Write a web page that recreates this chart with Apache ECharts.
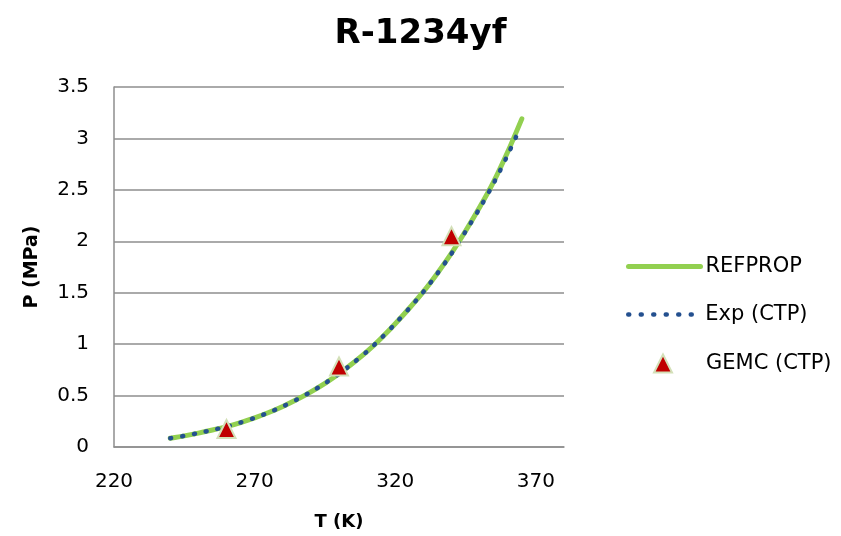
<!DOCTYPE html>
<html>
<head>
<meta charset="utf-8">
<script src="https://cdn.jsdelivr.net/npm/echarts@6/dist/echarts.min.js"></script>
<style>
html,body{margin:0;padding:0;background:#fff;}
#chart{width:841px;height:536px;}
</style>
</head>
<body>
<div id="chart"></div>
<script>
// REFPROP saturation curve
var refT = [240, 245, 250, 255, 260, 265, 270, 275, 280, 285, 290, 295, 300, 305, 310, 315, 320, 325, 330, 335, 340, 345, 350, 355, 360, 365];
var refP = [0.085, 0.108, 0.135, 0.165, 0.198, 0.238, 0.283, 0.335, 0.394, 0.461, 0.536, 0.619, 0.712, 0.816, 0.929, 1.058, 1.199, 1.349, 1.510, 1.690, 1.885, 2.100, 2.330, 2.580, 2.870, 3.190];
// Experimental (CTP)
var expT = [240, 245, 250, 255, 260, 265, 270, 275, 280, 285, 290, 295, 300, 305, 310, 315, 320, 325, 330, 335, 340, 345, 350, 355, 360, 363.7];
var expP = [0.085, 0.108, 0.135, 0.165, 0.198, 0.238, 0.283, 0.335, 0.394, 0.461, 0.536, 0.619, 0.712, 0.816, 0.929, 1.058, 1.199, 1.349, 1.508, 1.688, 1.880, 2.095, 2.320, 2.565, 2.840, 3.060];
// GEMC (CTP)
var gemcT = [260, 300, 340];
var gemcP = [0.175, 0.783, 2.05];
var xTicks = {min: 220, max: 380, interval: 50};
var yTicks = {min: 0, max: 3.5, interval: 0.5};

function pairs(xs, ys) { return xs.map(function (x, i) { return [x, ys[i]]; }); }

var FONT = 'DejaVu Sans';
var GREEN = '#92D050', BLUE = '#24508f', RED = '#C00000', TRI_BORDER = '#D3E0B8';
var chart = echarts.init(document.getElementById('chart'), null, {renderer: 'canvas'});
var legendText = {fontFamily: FONT, fontSize: 21, color: '#000', lineHeight: 21};
chart.setOption({
  backgroundColor: '#fff',
  animation: false,
  title: {
    text: 'R-1234yf', left: 'center', top: 12,
    textStyle: {fontFamily: FONT, fontSize: 34, fontWeight: 'bold', color: '#000'}
  },
  legend: [
    {
      orient: 'vertical', left: 626, top: 256, padding: 0, itemWidth: 72, itemHeight: 18,
      selectedMode: false, textStyle: legendText, data: ['REFPROP'],
      itemStyle: {opacity: 0},
      lineStyle: {color: GREEN, width: 5, cap: 'round'}
    },
    {
      orient: 'vertical', left: 626, top: 304, padding: 0, itemWidth: 72, itemHeight: 18,
      selectedMode: false, textStyle: legendText, data: ['Exp (CTP)'],
      itemStyle: {opacity: 0},
      lineStyle: {color: BLUE, width: 4.5, type: [1, 11.5], cap: 'round'}
    },
    {
      orient: 'vertical', left: 653, top: 353, padding: 0, itemWidth: 18, itemHeight: 18,
      selectedMode: false, data: ['GEMC (CTP)'],
      textStyle: Object.assign({}, legendText, {padding: [0, 0, 0, 29]})
    }
  ],
  grid: {left: 114, right: 277, top: 87, bottom: 89, containLabel: false},
  xAxis: {
    type: 'value', min: xTicks.min, max: xTicks.max, interval: xTicks.interval,
    name: 'T (K)', nameLocation: 'middle', nameGap: 66,
    nameTextStyle: {fontFamily: FONT, fontSize: 18, fontWeight: 'bold', color: '#000'},
    axisLine: {show: true, lineStyle: {color: '#8e8e8e', width: 1.5}},
    axisTick: {show: false},
    splitLine: {show: false},
    axisLabel: {fontFamily: FONT, fontSize: 20, color: '#000', margin: 25, showMaxLabel: false}
  },
  yAxis: {
    type: 'value', min: yTicks.min, max: yTicks.max, interval: yTicks.interval,
    name: 'P (MPa)', nameLocation: 'middle', nameGap: 72, nameRotate: 90,
    nameTextStyle: {fontFamily: FONT, fontSize: 19, fontWeight: 'bold', color: '#000'},
    axisLine: {show: true, lineStyle: {color: '#8e8e8e', width: 1.5}},
    axisTick: {show: false},
    splitLine: {show: true, lineStyle: {color: '#8e8e8e', width: 1.5}},
    axisLabel: {fontFamily: FONT, fontSize: 20, color: '#000', margin: 25}
  },
  series: [
    {
      name: 'REFPROP', type: 'line', smooth: 0.3, symbol: 'none', showSymbol: false,
      data: pairs(refT, refP),
      lineStyle: {color: GREEN, width: 5, cap: 'round'},
      itemStyle: {color: GREEN},
      z: 2
    },
    {
      name: 'Exp (CTP)', type: 'line', smooth: 0.3, symbol: 'none', showSymbol: false,
      data: pairs(expT, expP),
      lineStyle: {color: BLUE, width: 4.5, type: [1, 11], cap: 'round'},
      itemStyle: {color: BLUE},
      z: 3
    },
    {
      name: 'GEMC (CTP)', type: 'scatter', symbol: 'triangle', symbolSize: 18,
      data: pairs(gemcT, gemcP),
      itemStyle: {color: RED, borderColor: TRI_BORDER, borderWidth: 2, opacity: 1},
      z: 4
    }
  ]
});
</script>
</body>
</html>
